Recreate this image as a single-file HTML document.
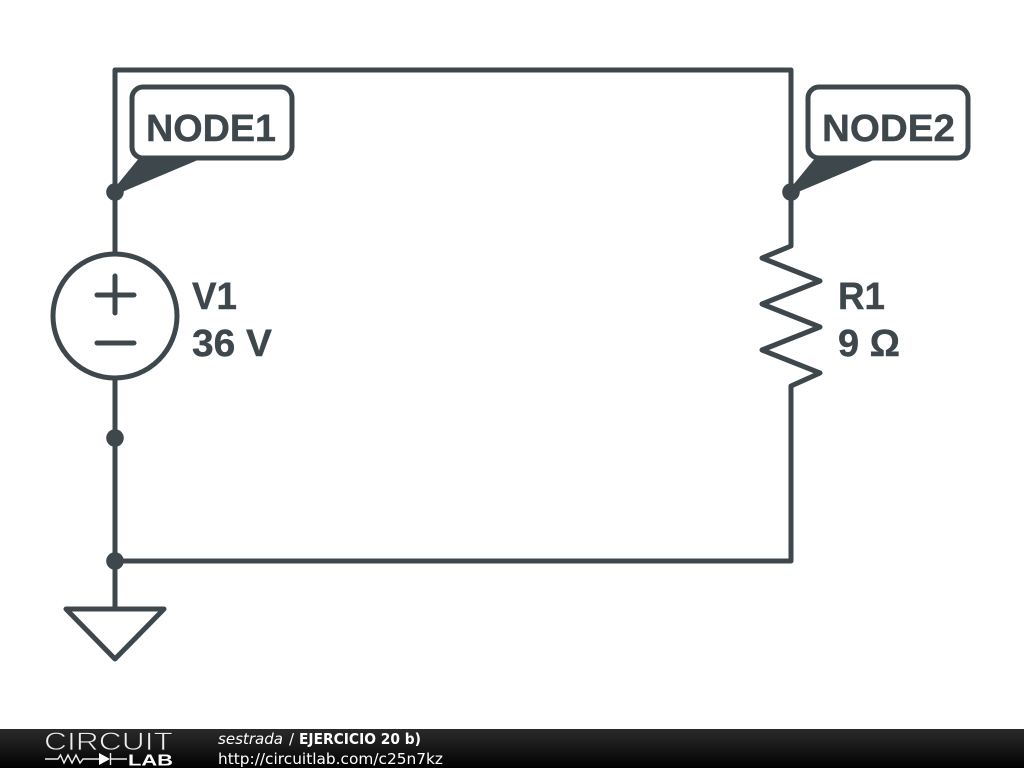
<!DOCTYPE html>
<html><head><meta charset="utf-8"><style>
html,body{margin:0;padding:0;background:#fff;width:1024px;height:768px;overflow:hidden}
svg{display:block}
</style></head><body>
<svg width="1024" height="768" viewBox="0 0 1024 768" xmlns="http://www.w3.org/2000/svg">
<defs><linearGradient id="f" x1="0" y1="0" x2="0" y2="1"><stop offset="0" stop-color="#2a2a2a"/><stop offset="0.5" stop-color="#171717"/><stop offset="1" stop-color="#000"/></linearGradient></defs>
<g fill="none" stroke="#3e474c" stroke-width="5" stroke-linejoin="round" stroke-linecap="round">
<path d="M115 253V70H791V246L762 258L820 281L762 304L820 327L762 350L820 373L791 386V561H115V379"/>
<path d="M115 561V609"/>
<circle cx="115" cy="316" r="62"/>
<path d="M97 295H134M115 276V313M97 343H134"/>
<path d="M66 609H164L115 659Z"/>
<rect x="132" y="87" width="160" height="71" rx="11"/>
<rect x="808" y="87" width="160" height="71" rx="11"/>
</g>
<g fill="#3e474c">
<circle cx="115" cy="192" r="8.800"/><circle cx="791" cy="192" r="8.800"/><circle cx="115" cy="438" r="8.800"/><circle cx="115" cy="561" r="8.800"/>
<path d="M113 190L140 157H205L115 195Z"/>
<path d="M789 190L816 157H881L791 195Z"/>
</g>
<g font-family="'Liberation Sans',sans-serif" font-weight="700" font-size="38" fill="#3e474c" stroke="#3e474c" stroke-width="0.4">
<text x="146" y="141" textLength="130" lengthAdjust="spacingAndGlyphs">NODE1</text>
<text x="822" y="141" textLength="133" lengthAdjust="spacingAndGlyphs">NODE2</text>
<text x="192" y="309" textLength="45" lengthAdjust="spacingAndGlyphs">V1</text>
<text x="192" y="356" textLength="80" lengthAdjust="spacingAndGlyphs">36 V</text>
<text x="838" y="309" textLength="47" lengthAdjust="spacingAndGlyphs">R1</text>
<text x="838" y="356" textLength="62" lengthAdjust="spacingAndGlyphs">9 Ω</text>
</g>
<rect x="0" y="729" width="1024" height="39" fill="url(#f)"/>
<text x="44" y="750" font-family="'Liberation Sans',sans-serif" font-size="25" fill="#eee" stroke="#1e1e1e" stroke-width="0.8" textLength="129" lengthAdjust="spacingAndGlyphs">CIRCUIT</text>
<g fill="none" stroke="#eee" stroke-width="1.4">
<path d="M45 759H58L60.500 755L64 763L68 755L72 763L76 755L80 763L83 759H100M110 759H127"/>
<path d="M110.500 753V765"/>
</g>
<path d="M99 753L110 759L99 765Z" fill="#fff"/>
<text x="128" y="765.500" font-family="'Liberation Sans',sans-serif" font-weight="700" font-size="16" fill="#fff" textLength="45" lengthAdjust="spacingAndGlyphs">LAB</text>
<g font-family="'DejaVu Sans',sans-serif" font-size="15" fill="#fff">
<text x="218" y="744" font-style="italic" textLength="65" lengthAdjust="spacingAndGlyphs">sestrada</text>
<text x="289" y="744">/</text>
<text x="299" y="744" font-weight="700" textLength="122" lengthAdjust="spacingAndGlyphs">EJERCICIO 20 b)</text>
<text x="218" y="764" textLength="225" lengthAdjust="spacingAndGlyphs">http://circuitlab.com/c25n7kz</text>
</g>
</svg>
</body></html>
